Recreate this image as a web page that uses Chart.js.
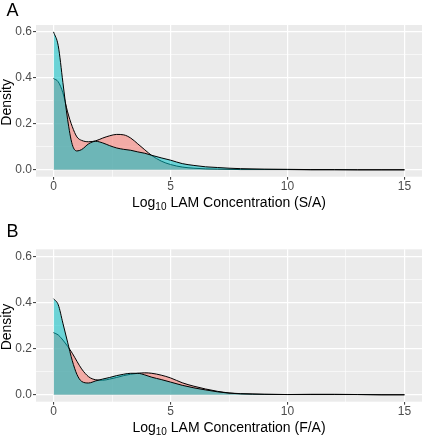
<!DOCTYPE html>
<html>
<head>
<meta charset="utf-8">
<script src="https://cdn.jsdelivr.net/npm/chart.js@4.4.1/dist/chart.umd.min.js"></script>
<style>
  body { margin: 0; background: #fff; }
  .panel { position: relative; width: 425px; height: 220px; }
</style>
</head>
<body>
<div class="panel"><canvas id="chartA"></canvas></div>
<div class="panel"><canvas id="chartB"></canvas></div>
<script>
// x positions of the density estimates (log10 LAM concentration)
const xGrid = [0, 0.2, 0.4, 0.6, 0.8, 1.0, 1.2, 1.5, 1.8, 2.1, 2.4, 2.7, 3.0, 3.3, 3.6, 3.9,
               4.2, 4.6, 5.0, 5.5, 6.0, 6.5, 7.0, 7.5, 8, 9, 10, 11, 12, 13, 14, 15];

// Panel A (S/A)
const aCyan = [0.600, 0.540, 0.380, 0.220, 0.110, 0.082, 0.088, 0.113, 0.124, 0.117, 0.105, 0.095, 0.089, 0.085, 0.078, 0.072,
               0.063, 0.052, 0.042, 0.027, 0.019, 0.013, 0.010, 0.007, 0.005, 0.003, 0.002, 0.001, 0.001, 0.000, 0.000, 0.000];
const aRed  = [0.397, 0.383, 0.335, 0.252, 0.188, 0.143, 0.128, 0.122, 0.126, 0.138, 0.148, 0.154, 0.152, 0.138, 0.113, 0.087,
               0.062, 0.038, 0.023, 0.012, 0.007, 0.004, 0.003, 0.002, 0.001, 0.001, 0.001, 0.000, 0.000, 0.000, 0.000, 0.000];

// Panel B (F/A)
const bCyan = [0.416, 0.390, 0.310, 0.228, 0.148, 0.088, 0.058, 0.051, 0.060, 0.068, 0.075, 0.083, 0.089, 0.093, 0.093, 0.086,
               0.076, 0.066, 0.055, 0.041, 0.030, 0.021, 0.013, 0.007, 0.004, 0.002, 0.001, 0.001, 0.001, 0.001, 0.000, 0.000];
const bRed  = [0.269, 0.259, 0.237, 0.210, 0.180, 0.145, 0.112, 0.078, 0.065, 0.063, 0.068, 0.075, 0.083, 0.089, 0.093, 0.095,
               0.093, 0.085, 0.073, 0.052, 0.037, 0.025, 0.015, 0.008, 0.005, 0.002, 0.001, 0.002, 0.002, 0.001, 0.000, 0.000];

const xTicks = [0, 2.5, 5, 7.5, 10, 12.5, 15];
const yTicks = [0, 0.1, 0.2, 0.3, 0.4, 0.5, 0.6];

const FONT = "'Liberation Sans', Arial, sans-serif";
const isMajorX = v => v % 5 === 0;
const isMajorY = v => Math.round(v * 10) % 2 === 0;

// panel letter + axis titles (x title needs a subscript)
const labelsPlugin = {
  id: 'labels',
  afterDraw(chart, args, opts) {
    const c = chart.ctx, a = chart.chartArea;
    c.save();
    c.fillStyle = '#000';
    c.font = '18px ' + FONT;
    c.textBaseline = 'alphabetic';
    c.textAlign = 'left';
    c.fillText(opts.letter, 6.5, opts.letterY);

    // y title
    c.save();
    c.font = '14px ' + FONT;
    c.translate(11, (a.top + a.bottom) / 2 + 1.5);
    c.rotate(-Math.PI / 2);
    c.textAlign = 'center';
    c.fillText('Density', 0, 0);
    c.restore();

    // x title: Log10 LAM Concentration (..)
    const big = '14px ' + FONT, small = '10px ' + FONT;
    const p1 = 'Log', p2 = '10', p3 = ' LAM Concentration ' + opts.suffix;
    c.font = big; const w1 = c.measureText(p1).width, w3 = c.measureText(p3).width;
    c.font = small; const w2 = c.measureText(p2).width;
    let x = (a.left + a.right) / 2 - (w1 + w2 + w3) / 2;
    const y = a.bottom + 30;
    c.font = big; c.fillText(p1, x, y); x += w1;
    c.font = small; c.fillText(p2, x, y + 3); x += w2;
    c.font = big; c.fillText(p3, x, y);
    c.restore();
  }
};

function makePanel(id, letter, letterY, suffix, cyan, red, padTop, axisH) {
  const ctx = document.getElementById(id).getContext('2d');
  const pts = arr => xGrid.map((x, i) => ({ x: x, y: arr[i] }));
  return new Chart(ctx, {
    type: 'line',
    data: {
      datasets: [
        {
          label: 'cyan',
          data: pts(cyan),
          borderColor: '#000',
          backgroundColor: 'rgba(0, 191, 196, 0.55)',
          borderWidth: 1,
          pointRadius: 0,
          cubicInterpolationMode: 'monotone',
          fill: 'origin'
        },
        {
          label: 'red',
          data: pts(red),
          borderColor: '#000',
          backgroundColor: 'rgba(248, 118, 109, 0.55)',
          borderWidth: 1,
          pointRadius: 0,
          cubicInterpolationMode: 'monotone',
          fill: 'origin'
        }
      ]
    },
    options: {
      responsive: true,
      maintainAspectRatio: false,
      animation: false,
      layout: { padding: { top: padTop, right: 3, left: 0, bottom: 0 } },
      plugins: {
        legend: { display: false },
        tooltip: { enabled: false },
        labels: { letter: letter, letterY: letterY, suffix: suffix }
      },
      scales: {
        x: {
          type: 'linear',
          min: -0.75,
          max: 15.75,
          afterBuildTicks: s => { s.ticks = xTicks.map(v => ({ value: v })); },
          afterFit: s => { s.height = axisH; },
          border: { display: false },
          grid: {
            color: '#fff',
            lineWidth: c => isMajorX(c.tick.value) ? 1.2 : 0.6,
            tickLength: 3,
            tickColor: c => isMajorX(c.tick.value) ? '#333' : 'rgba(0,0,0,0)',
            tickWidth: 1
          },
          ticks: {
            autoSkip: false,
            maxRotation: 0,
            padding: 0,
            color: '#4d4d4d',
            font: { family: FONT, size: 12 },
            callback: v => isMajorX(v) ? String(v) : ''
          }
        },
        y: {
          min: -0.03,
          max: 0.63,
          afterBuildTicks: s => { s.ticks = yTicks.map(v => ({ value: v })); },
          afterFit: s => { s.width = 36; },
          border: { display: false },
          grid: {
            color: '#fff',
            lineWidth: c => isMajorY(c.tick.value) ? 1.2 : 0.6,
            tickLength: 3,
            tickColor: c => isMajorY(c.tick.value) ? '#333' : 'rgba(0,0,0,0)',
            tickWidth: 1
          },
          ticks: {
            autoSkip: false,
            padding: 1,
            color: '#4d4d4d',
            font: { family: FONT, size: 12 },
            callback: v => isMajorY(v) ? v.toFixed(1) : ''
          }
        }
      }
    },
    plugins: [
      {
        id: 'panelBg',
        beforeDraw(chart) {
          const a = chart.chartArea, c = chart.ctx;
          c.save();
          c.fillStyle = '#ebebeb';
          c.fillRect(a.left, a.top, a.right - a.left, a.bottom - a.top);
          c.restore();
        }
      },
      labelsPlugin
    ]
  });
}

makePanel('chartA', 'A', 15.5, '(S/A)', aCyan, aRed, 25, 43.3);
makePanel('chartB', 'B', 17, '(F/A)', bCyan, bRed, 29.3, 38.3);
</script>
</body>
</html>
